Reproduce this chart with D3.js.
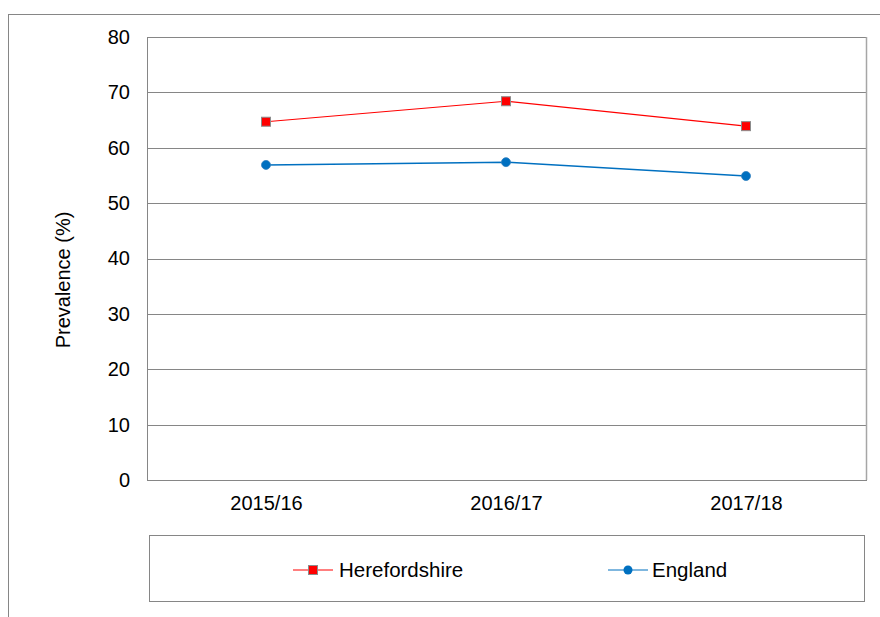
<!DOCTYPE html>
<html>
<head>
<meta charset="utf-8">
<script src="https://d3js.org/d3.v7.min.js"></script>
<style>
  body { margin: 0; background: #fff; }
  svg text { font-family: "Liberation Sans", Arial, sans-serif; fill: #000; }
</style>
</head>
<body>
<div id="chart"></div>
<script>
// data
var years = ["2015/16", "2016/17", "2017/18"];
var herefordshire = [64.7, 68.4, 63.9];
var england = [56.9, 57.4, 54.9];
var seriesNames = ["Herefordshire", "England"];
var yTicks = [0, 10, 20, 30, 40, 50, 60, 70, 80];

var svgWidth = 880;
var svgHeight = 617;

var margin = { top: 37, right: 13, bottom: 137, left: 147 };
var width = svgWidth - margin.left - margin.right;
var height = svgHeight - margin.top - margin.bottom;

var svg = d3.select("#chart")
    .append("svg")
    .attr("width", svgWidth)
    .attr("height", svgHeight);

// outer frame (runs off canvas right and bottom)
svg.append("rect")
    .attr("x", 8.5).attr("y", 14.5)
    .attr("width", 900).attr("height", 700)
    .attr("fill", "none")
    .attr("stroke", "#868686")
    .attr("stroke-width", 1);

var chartGroup = svg.append("g")
    .attr("transform", `translate(${margin.left}, ${margin.top})`);

var xScale = d3.scalePoint()
    .domain(years)
    .range([-1, width - 1])
    .padding(0.5);

var yScale = d3.scaleLinear()
    .domain([0, 80])
    .range([height, 0]);

// gridlines
chartGroup.selectAll("line.grid")
    .data(yTicks)
    .enter()
    .append("line")
    .attr("class", "grid")
    .attr("x1", 0).attr("x2", width)
    .attr("y1", d => Math.round(yScale(d)) + 0.5)
    .attr("y2", d => Math.round(yScale(d)) + 0.5)
    .attr("stroke", "#868686")
    .attr("stroke-width", 1);

// plot border
chartGroup.append("line")
    .attr("x1", 0.5).attr("x2", 0.5)
    .attr("y1", 0).attr("y2", height)
    .attr("stroke", "#868686");
chartGroup.append("line")
    .attr("x1", width - 0.5).attr("x2", width - 0.5)
    .attr("y1", 0).attr("y2", height)
    .attr("stroke", "#a6a6a6")
    .attr("stroke-width", 1.5);

// y axis labels
var leftAxis = d3.axisLeft(yScale).tickValues(yTicks).tickSize(0).tickPadding(17);
var yAxisG = chartGroup.append("g").call(leftAxis);
yAxisG.select(".domain").remove();
yAxisG.selectAll("text")
    .style("font-size", "20px")
    .attr("fill", "#000");

// x axis labels
var bottomAxis = d3.axisBottom(xScale).tickSize(0).tickPadding(16);
var xAxisG = chartGroup.append("g")
    .attr("transform", `translate(0, ${height})`)
    .call(bottomAxis);
xAxisG.select(".domain").remove();
xAxisG.selectAll("text")
    .style("font-size", "20px")
    .attr("fill", "#000");

// y axis title
svg.append("text")
    .attr("transform", "translate(70, 280) rotate(-90)")
    .attr("text-anchor", "middle")
    .style("font-size", "20px")
    .text("Prevalence (%)");

var line = d3.line()
    .x((d, i) => xScale(years[i]))
    .y(d => yScale(d));

// England
chartGroup.append("path")
    .datum(england)
    .attr("d", line)
    .attr("fill", "none")
    .attr("stroke", "#0070c0")
    .attr("stroke-width", 1.5);

chartGroup.selectAll("circle.eng")
    .data(england)
    .enter()
    .append("circle")
    .attr("class", "eng")
    .attr("cx", (d, i) => xScale(years[i]))
    .attr("cy", d => yScale(d))
    .attr("r", 4.5)
    .attr("fill", "#0070c0")
    .attr("stroke", "#2f7fbf")
    .attr("stroke-width", 0.8);

// Herefordshire
chartGroup.append("path")
    .datum(herefordshire)
    .attr("d", line)
    .attr("fill", "none")
    .attr("stroke", "#ff0000")
    .attr("stroke-width", 1.2);

chartGroup.selectAll("rect.her")
    .data(herefordshire)
    .enter()
    .append("rect")
    .attr("class", "her")
    .attr("x", (d, i) => xScale(years[i]) - 4.5)
    .attr("y", d => yScale(d) - 4.5)
    .attr("width", 9)
    .attr("height", 9)
    .attr("fill", "#ff0000")
    .attr("stroke", "#8c8c8c")
    .attr("stroke-width", 1);

// legend
var legend = svg.append("g");
legend.append("rect")
    .attr("x", 149.5).attr("y", 535.5)
    .attr("width", 715).attr("height", 66)
    .attr("fill", "none")
    .attr("stroke", "#868686");

var legendX = [293, 608];
var legendY = 570;

seriesNames.forEach(function (name, i) {
    var g = legend.append("g").attr("transform", `translate(${legendX[i]}, ${legendY})`);
    g.append("line")
        .attr("x1", 0).attr("x2", 40)
        .attr("y1", 0).attr("y2", 0)
        .attr("stroke", i === 0 ? "#ff0000" : "#0070c0")
        .attr("stroke-width", 1.2);
    if (i === 0) {
        g.append("rect")
            .attr("x", 15.5).attr("y", -4.5)
            .attr("width", 9).attr("height", 9)
            .attr("fill", "#ff0000")
            .attr("stroke", "#8c8c8c");
    } else {
        g.append("circle")
            .attr("cx", 20).attr("cy", 0).attr("r", 4.5)
            .attr("fill", "#0070c0");
    }
    g.append("text")
        .attr("x", i === 0 ? 46 : 44)
        .attr("y", 7)
        .style("font-size", "20.5px")
        .text(name);
});
</script>
</body>
</html>
